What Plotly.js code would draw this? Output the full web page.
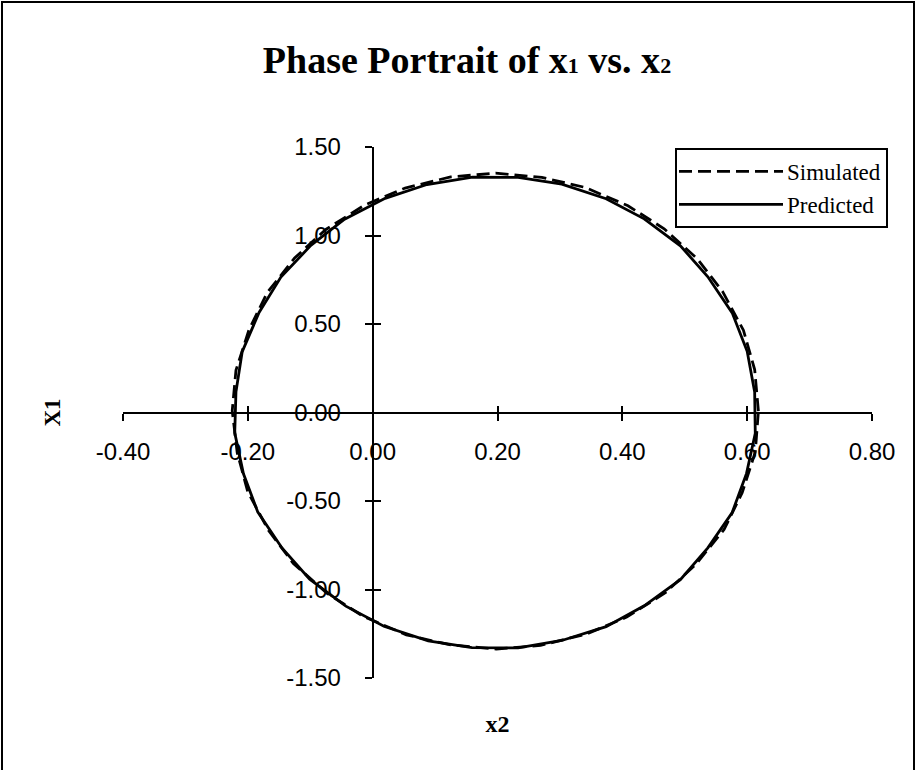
<!DOCTYPE html>
<html>
<head>
<meta charset="utf-8">
<script src="https://cdn.plot.ly/plotly-3.0.1.min.js"></script>
<style>
  html, body { margin: 0; padding: 0; background: #fff; }
  #chart { width: 917px; height: 770px; }
</style>
</head>
<body>
<div id="chart"></div>
<script>
// Phase portrait: x2 on the horizontal axis, x1 on the vertical axis
const simulatedX2 = [0.618, 0.612, 0.594, 0.561, 0.520, 0.467, 0.409, 0.340, 0.271, 0.197,
                     0.125, 0.052, -0.013, -0.075, -0.125, -0.169, -0.198, -0.219, -0.225,
                     -0.217, -0.200, -0.167, -0.127, -0.073, -0.015, 0.054, 0.123, 0.198,
                     0.269, 0.342, 0.407, 0.469, 0.518, 0.563, 0.592, 0.613, 0.618];
const simulatedX1 = [0.008, 0.243, 0.465, 0.681, 0.869, 1.038, 1.168, 1.272, 1.328, 1.352,
                     1.331, 1.268, 1.172, 1.034, 0.873, 0.677, 0.469, 0.239, 0.010,
                     -0.227, -0.449, -0.665, -0.853, -1.022, -1.152, -1.256, -1.312, -1.336,
                     -1.316, -1.252, -1.156, -1.018, -0.857, -0.661, -0.453, -0.223, 0.008];

const predictedX2 = [0.612, 0.600, 0.576, 0.537, 0.493, 0.435, 0.374, 0.303, 0.233, 0.160,
                     0.087, 0.020, -0.045, -0.099, -0.147, -0.182, -0.209, -0.219, -0.221,
                     -0.207, -0.184, -0.145, -0.101, -0.043, 0.018, 0.089, 0.159, 0.233,
                     0.303, 0.374, 0.435, 0.493, 0.537, 0.576, 0.599, 0.613, 0.612];
const predictedX1 = [0.116, 0.346, 0.563, 0.767, 0.942, 1.094, 1.208, 1.290, 1.328, 1.330,
                     1.288, 1.210, 1.092, 0.944, 0.765, 0.565, 0.344, 0.117, -0.115,
                     -0.346, -0.563, -0.767, -0.942, -1.094, -1.208, -1.290, -1.328, -1.330,
                     -1.288, -1.210, -1.092, -0.944, -0.765, -0.565, -0.344, -0.117, 0.116];

const xTickVals = [-0.4, -0.2, 0, 0.2, 0.4, 0.6, 0.8];
const xTickText = ["-0.40", "-0.20", "0.00", "0.20", "0.40", "0.60", "0.80"];
const yTickVals = [-1.5, -1.0, -0.5, 0, 0.5, 1.0, 1.5];
const yTickText = ["-1.50", "-1.00", "-0.50", "0.00", "0.50", "1.00", "1.50"];

const xRange = [-0.4, 0.8];
const yRange = [-1.5, 1.5];

const serif = "Liberation Serif, Times New Roman, serif";
const sans = "Liberation Sans, Arial, sans-serif";
const legendSampleWidth = 100;

const traces = [
  {
    x: simulatedX2, y: simulatedX1, name: "Simulated",
    type: "scatter", mode: "lines",
    xaxis: "x2", yaxis: "y2",
    line: { color: "#000", width: 2.8, dash: "13px,6px" }
  },
  {
    x: predictedX2, y: predictedX1, name: "Predicted",
    type: "scatter", mode: "lines",
    line: { color: "#000", width: 2.8 }
  }
];

// axes cross at the origin: position of each axis inside the plot area
const yAxisPos = (0 - xRange[0]) / (xRange[1] - xRange[0]);
const xAxisPos = (0 - yRange[0]) / (yRange[1] - yRange[0]);

const baseX = {
  range: xRange, tickvals: xTickVals, ticktext: xTickText,
  showgrid: false, zeroline: false, fixedrange: true,
  anchor: "free", position: xAxisPos,
  tickcolor: "#000", tickwidth: 2, ticklen: 7
};
const baseY = {
  range: yRange, tickvals: yTickVals, ticktext: yTickText,
  showgrid: false, zeroline: false, fixedrange: true,
  anchor: "free", position: yAxisPos,
  tickcolor: "#000", tickwidth: 2, ticklen: 7
};

const layout = {
  width: 917, height: 770,
  margin: { l: 123, r: 45, t: 147, b: 92 },
  paper_bgcolor: "#fff", plot_bgcolor: "rgba(0,0,0,0)",
  showlegend: true,
  title: {
    text: "Phase Portrait of x<span style=\"font-size:22px\">1</span> vs. x<span style=\"font-size:22px\">2</span>",
    font: { family: serif, size: 38, color: "#000", weight: "bold" },
    xref: "container", yref: "container",
    x: 467 / 917, xanchor: "center",
    y: 1 - 60 / 770, yanchor: "middle"
  },
  xaxis: Object.assign({}, baseX, {
    ticks: "outside",
    showline: true, linecolor: "#000", linewidth: 2,
    ticklabelstandoff: 11,
    tickfont: { family: sans, size: 24, color: "#000" },
    title: { text: "x2", font: { family: serif, size: 24, color: "#000", weight: "bold" }, standoff: 250 },
    automargin: false
  }),
  yaxis: Object.assign({}, baseY, {
    ticks: "outside",
    showline: true, linecolor: "#000", linewidth: 2,
    ticklabelstandoff: 19,
    tickfont: { family: sans, size: 24, color: "#000" },
    title: { text: "X1", font: { family: serif, size: 23, color: "#000", weight: "bold" }, standoff: 218 },
    automargin: false
  }),
  xaxis2: Object.assign({}, baseX, {
    overlaying: "x", matches: "x", ticks: "inside",
    showline: false, showticklabels: false
  }),
  yaxis2: Object.assign({}, baseY, {
    overlaying: "y", matches: "y", ticks: "inside",
    showline: false, showticklabels: false
  }),
  legend: {
    x: (888 - 123) / 749, xanchor: "right",
    y: (678 - 148) / 531, yanchor: "top",
    bgcolor: "#fff", bordercolor: "#000", borderwidth: 2,
    font: { family: serif, size: 23, color: "#000" },
    itemwidth: legendSampleWidth,
    tracegroupgap: 0
  },
  shapes: [
    {
      type: "rect", xref: "paper", yref: "paper", layer: "above",
      x0: (2 - 123) / 749, x1: (914 - 123) / 749,
      y0: (678 - 775) / 531, y1: (678 - 2) / 531,
      line: { color: "#000", width: 2 }, fillcolor: "rgba(0,0,0,0)"
    }
  ]
};

Plotly.newPlot("chart", traces, layout, { displayModeBar: false, staticPlot: true }).then(function (gd) {
  // stretch the legend sample lines across the whole item width
  gd.querySelectorAll(".legend .legendlines path").forEach(function (p) {
    p.setAttribute("d", "M2,0h" + (legendSampleWidth + 4));
  });
});
</script>
</body>
</html>
